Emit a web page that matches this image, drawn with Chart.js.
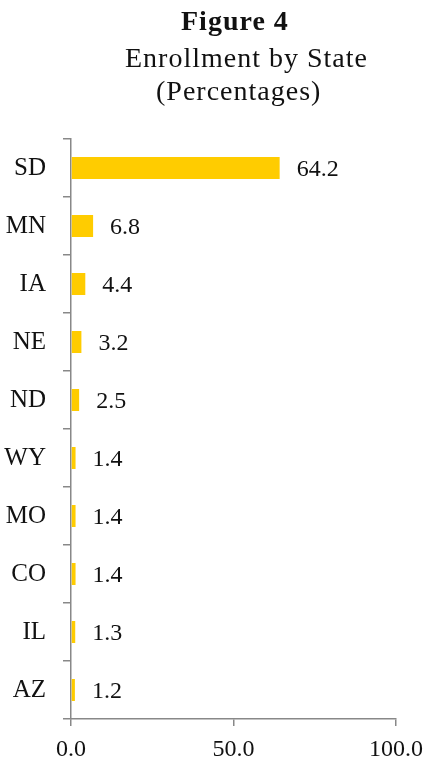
<!DOCTYPE html>
<html>
<head>
    <meta charset="UTF-8" />
    <title>Figure 4 - Enrollment by State</title>
    <script src="https://cdn.jsdelivr.net/npm/chart.js"></script>
    <style>
        body { margin: 0; background: #fff; }
        #wrap { position: relative; width: 428px; height: 763px; }
        .t { position: absolute; font-family: "Liberation Serif", serif; color: #111; white-space: nowrap;
             font-size: 28px; letter-spacing: 1px; }
        #t1 { top: 5px; left: 181px; font-weight: bold; }
        #t2 { top: 42px; left: 125px; }
        #t3 { top: 75px; left: 156px; }
    </style>
</head>
<body>
<div id="wrap">
    <div class="t" id="t1">Figure 4</div>
    <div class="t" id="t2">Enrollment by State</div>
    <div class="t" id="t3">(Percentages)</div>
    <canvas id="enrollChart" width="428" height="763"></canvas>
</div>
<script>
    const states = ['SD', 'MN', 'IA', 'NE', 'ND', 'WY', 'MO', 'CO', 'IL', 'AZ'];
    const percents = [64.2, 6.8, 4.4, 3.2, 2.5, 1.4, 1.4, 1.4, 1.3, 1.2];
    const xTicks = [0, 50, 100];

    // value labels to the right of each bar
    const barLabels = {
        id: 'barLabels',
        afterDatasetsDraw(chart) {
            const ctx = chart.ctx;
            const meta = chart.getDatasetMeta(0);
            ctx.save();
            ctx.font = '24px "Liberation Serif"';
            ctx.fillStyle = '#111';
            ctx.textBaseline = 'middle';
            meta.data.forEach((bar, i) => {
                ctx.fillText(percents[i].toFixed(1), bar.x + 17, bar.y + 2);
            });
            ctx.restore();
        }
    };

    new Chart(document.getElementById('enrollChart'), {
        type: 'bar',
        data: {
            labels: states,
            datasets: [{
                data: percents,
                backgroundColor: '#FFCC00',
                barPercentage: 0.38,
                categoryPercentage: 1
            }]
        },
        plugins: [barLabels],
        options: {
            indexAxis: 'y',
            responsive: false,
            animation: false,
            layout: { padding: { top: 139, right: 32, left: 0, bottom: 0 } },
            plugins: {
                legend: { display: false },
                tooltip: { enabled: false }
            },
            scales: {
                x: {
                    min: 0,
                    max: 100,
                    afterBuildTicks: s => { s.ticks = xTicks.map(v => ({ value: v })); },
                    afterFit: s => { s.height = 44; s.paddingLeft = 0; s.paddingRight = 0; },
                    border: { color: '#888', width: 1.5 },
                    grid: { drawOnChartArea: false, color: '#888', tickLength: 7, lineWidth: 1.5 },
                    ticks: {
                        callback: v => v.toFixed(1),
                        color: '#111',
                        padding: 9,
                        maxRotation: 0,
                        font: { family: 'Liberation Serif', size: 24 }
                    }
                },
                y: {
                    afterFit: s => { s.width = 71; s.paddingTop = 0; s.paddingBottom = 0; },
                    border: { color: '#888', width: 1.5 },
                    grid: { drawOnChartArea: false, color: '#888', tickLength: 8, lineWidth: 1.5, offset: true },
                    ticks: {
                        color: '#111',
                        padding: 17,
                        font: { family: 'Liberation Serif', size: 25 }
                    }
                }
            }
        }
    });
</script>
</body>
</html>
